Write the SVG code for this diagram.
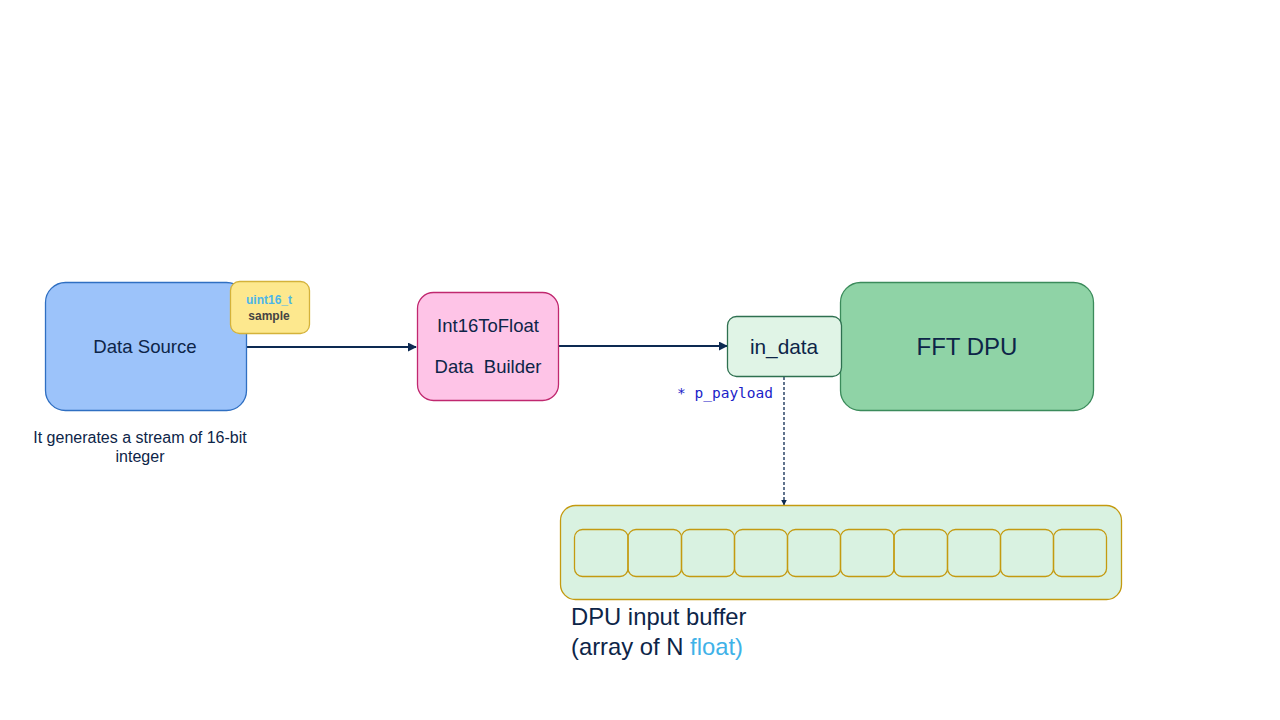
<svg xmlns="http://www.w3.org/2000/svg" width="1280" height="720" viewBox="0 0 1280 720">
<defs>
<style>
text{font-family:"Liberation Sans",Arial,sans-serif;fill:#0d2548}
.mono{font-family:"DejaVu Sans Mono","Liberation Mono",monospace;fill:#1a22c8;font-size:14.5px}
.conn{stroke:#0d2a52;stroke-width:2;fill:none}
.cell{fill:none;stroke:#c49a10;stroke-width:1.3}
</style>
<marker id="arr" viewBox="0 0 10 10" refX="9" refY="5" markerWidth="4.5" markerHeight="4.5" orient="auto"><path d="M0,0 L10,5 L0,10 z" fill="#0d2a52"/></marker>
</defs>
<rect width="1280" height="720" fill="#ffffff"/>
<g id="connectors">
<line class="conn" x1="246" y1="347" x2="416" y2="347" marker-end="url(#arr)"/>
<line class="conn" x1="558" y1="346" x2="727" y2="346" marker-end="url(#arr)"/>
<line x1="784" y1="377" x2="784" y2="505" stroke="#0d2a52" stroke-width="1.3" stroke-dasharray="3,2" marker-end="url(#arr)"/>
</g>
<g id="data-source">
<rect x="45.5" y="282.5" width="201" height="128" rx="20" fill="#9cc3fa" stroke="#2f6fc2" stroke-width="1.3"/>
<text x="145" y="353" font-size="18.6" text-anchor="middle">Data Source</text>
</g>
<g id="sample">
<rect x="230.5" y="281.5" width="79" height="52" rx="9" fill="#fde88e" stroke="#d4b23a" stroke-width="1.3"/>
<text x="269" y="304" font-size="12" font-weight="bold" text-anchor="middle" style="fill:#4cb6e8">uint16_t</text>
<text x="269" y="320" font-size="12" font-weight="bold" text-anchor="middle" style="fill:#444">sample</text>
</g>
<g id="caption">
<text x="140" y="443" font-size="16" text-anchor="middle">It generates a stream of 16-bit</text>
<text x="140" y="462" font-size="16" text-anchor="middle">integer</text>
</g>
<g id="builder">
<rect x="417.5" y="292.5" width="141" height="108" rx="16" fill="#fec4e7" stroke="#c0286f" stroke-width="1.3"/>
<text x="488" y="332" font-size="18.5" text-anchor="middle">Int16ToFloat</text>
<text x="488" y="373" font-size="18.5" text-anchor="middle" xml:space="preserve">Data  Builder</text>
</g>
<g id="fft-dpu">
<rect x="840.5" y="282.5" width="253" height="128" rx="20" fill="#8fd3a6" stroke="#3b8b5b" stroke-width="1.3"/>
<text x="967" y="355" font-size="24" text-anchor="middle">FFT DPU</text>
</g>
<g id="in-data">
<rect x="727.5" y="316.5" width="114" height="60" rx="9" fill="#e0f4e6" stroke="#2e7050" stroke-width="1.3"/>
<text x="784" y="354" font-size="20.8" text-anchor="middle">in_data</text>
</g>
<g id="p-payload">
<text class="mono" x="677" y="398">* p_payload</text>
</g>
<g id="buffer">
<rect x="560.5" y="505.5" width="561" height="94" rx="15" fill="#d9f2e1" stroke="#c49a10" stroke-width="1.3"/>
<rect class="cell" x="574.5" y="529.5" width="53.5" height="47" rx="8"/>
<rect class="cell" x="628" y="529.5" width="53.5" height="47" rx="8"/>
<rect class="cell" x="681.5" y="529.5" width="53" height="47" rx="8"/>
<rect class="cell" x="734.5" y="529.5" width="53" height="47" rx="8"/>
<rect class="cell" x="787.5" y="529.5" width="53" height="47" rx="8"/>
<rect class="cell" x="840.5" y="529.5" width="53.5" height="47" rx="8"/>
<rect class="cell" x="894" y="529.5" width="53.5" height="47" rx="8"/>
<rect class="cell" x="947.5" y="529.5" width="53" height="47" rx="8"/>
<rect class="cell" x="1000.5" y="529.5" width="53" height="47" rx="8"/>
<rect class="cell" x="1053.5" y="529.5" width="53" height="47" rx="8"/>
</g>
<g id="buffer-label">
<text x="571" y="625" font-size="23.8">DPU input buffer</text>
<text x="571" y="655" font-size="23.8">(array of N <tspan style="fill:#3fb2e8">float)</tspan></text>
</g>
</svg>
